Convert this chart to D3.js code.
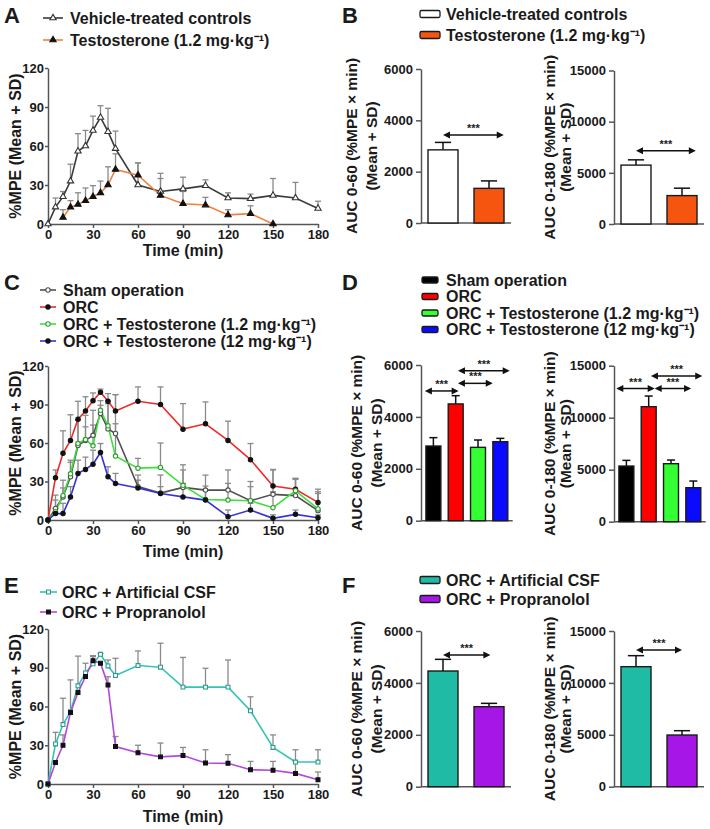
<!DOCTYPE html>
<html><head><meta charset="utf-8">
<script src="https://cdnjs.cloudflare.com/ajax/libs/d3/7.8.5/d3.min.js"></script>
<style>
body{margin:0;background:#fff}
svg{display:block}
text{font-family:'Liberation Sans',Arial,Helvetica,sans-serif;font-weight:bold;fill:#1a1a1a}
</style>
</head><body>
<svg id="chart" width="710" height="829"></svg>
<script>
// ---------- DATA ----------
const times = [0,5,10,15,20,25,30,35,40,45,60,75,90,105,120,135,150,165,180];
const timeTicks = [0,30,60,90,120,150,180];
const mpeTicks = [0,30,60,90,120];

// Panel A
const aVehicleMean = [0,13,21,33,56,60,72,82,71,58,30,25,27,29.5,20,19.5,22,20,12];
const aVehicleSD   = [0,7,4,13,13.5,12,11,9,18,13.5,17,14,9,4.5,4,3.5,13,12,5.5];
const aTestoTimes  = [10,15,20,25,30,35,40,45,60,75,90,105,120,135,150];
const aTestoMean   = [5,13,15,18,21,24,30,42,37.5,22,15.6,14.6,7,8,0];
const aTestoSD     = [6,5,9,9.7,8.5,9,14,12,9.5,13,9.4,5.9,4,6,0];

// Panel C
const cShamMean = [0,9,18,33.7,58,62,66,83,71,67.4,26,21,25.4,23.3,23.3,15,20,19,7.3];
const cShamSD   = [0,10.4,13,12.9,19.8,19.6,19.5,10,22,30.3,9,14,17.6,11.7,15.7,15,19,13.4,14.7];
const cOrcMean  = [0,33,52,62,78.5,85,93,99.5,92.5,85,92.5,90,70.8,75,62,47,26.5,24,13.7];
const cOrcSD    = [0,6,17.5,20,14,11,6,2.5,6,12.7,11.2,13.7,19.9,17,15,12.6,12.9,8.4,10.3];
const cT12Mean  = [0,6.5,19,36,59.6,62.7,57.8,85.5,73.4,49.8,40.4,41,27,16,15.5,15,9.6,22.8,8.6];
const cT12SD    = [0,9,6,9,18.2,9.9,16.2,3.9,17.3,25.2,7.6,19,12,10.4,13,11,12.4,8.8,12.1];
const cT120Mean = [0,5,5,18,36.3,39.4,43.5,52.6,33.7,28.5,25,20.7,18,15.5,2.6,7.8,1.3,4.4,1.8];
const cT120SD   = [0,4,8,8,10.3,9.6,10.9,7,7.8,7.8,6,5.3,10.5,7.5,5.2,5.2,2.7,3.4,2.2];

// Panel E
const eCsfMean  = [0,31,46,56,76,86,93,100.4,91.4,84,91.7,90.4,75,75,75,56.7,28.3,17,17];
const eCsfSD    = [0,9,20.4,24.6,23,7.5,5.6,0.6,4.6,13.3,11.3,18.6,23,14.6,21,10.8,9.7,9.5,9.5];
const ePropMean = [0,16.7,30,55.4,70.8,83.2,95.5,93.5,76.7,29,24.2,21,22,16.2,16,11,10.6,8.2,3.3];
const ePropSD   = [0,0,8,0,0,0,3.9,0,6.3,7.8,5.8,10.7,6.3,10.3,6.7,6.5,6.9,9.3,6];

// Bar panels (AUC)
const auc60Ticks  = [0,2000,4000,6000];
const auc180Ticks = [0,5000,10000,15000];
const bGroups = ["Vehicle-treated controls","Testosterone (1.2 mg\u00b7kg\u207b\u00b9)"];
const bAuc60Mean  = [2850,1350];   const bAuc60SD  = [290,290];
const bAuc180Mean = [5755,2775];   const bAuc180SD = [515,725];
const dGroups = ["Sham operation","ORC","ORC + Testosterone (1.2 mg\u00b7kg\u207b\u00b9)","ORC + Testosterone (12 mg\u00b7kg\u207b\u00b9)"];
const dAuc60Mean  = [2878,4500,2827,3045];  const dAuc60SD  = [322,318,283,128];
const dAuc180Mean = [5352,11058,5577,3269]; const dAuc180SD = [545,1025,353,641];
const fGroups = ["ORC + Artificial CSF","ORC + Propranolol"];
const fAuc60Mean  = [4458,3084];   const fAuc60SD  = [450,128];
const fAuc180Mean = [11563,4979];  const fAuc180SD = [1060,417];

// significance brackets: [from category, to category, value level]
const bSig60  = [[0,1.32,3430]];
const bSig180 = [[0,1.3,7157]];
const dSig60  = [[-0.38,1.13,5000],[1.1,2.66,5293],[1.1,3.42,5780]];
const dSig180 = [[-0.45,1.27,12800],[1.27,2.9,12800],[1.1,3.4,14006]];
const fSig60  = [[0,1.03,5075]];
const fSig180 = [[0,1,13169]];

// ---------- DRAWING ----------
const svg = d3.select("#chart");
const AXIS = "#555";
const FONT = "'Liberation Sans',Arial,Helvetica,sans-serif";

function letter(t, x, y){
  svg.append("text").attr("x",x).attr("y",y).attr("font-size",22).text(t);
}

function marker(g, type, x, y, fill, stroke){
  const sym = {tri:d3.symbolTriangle, circ:d3.symbolCircle, sq:d3.symbolSquare}[type];
  const size = type==="tri"?17:(type==="sq"?15:15);
  g.append("path").attr("d", d3.symbol().type(sym).size(size)())
    .attr("transform", `translate(${x},${y})`)
    .attr("fill", fill).attr("stroke", stroke).attr("stroke-width",1.1);
}

function styleAxis(a){
  a.selectAll("path,line").attr("stroke",AXIS).attr("stroke-width",1.5);
  a.selectAll("text").attr("font-size",13).attr("font-family",FONT).attr("font-weight","bold").attr("fill","#1a1a1a");
}

function lineChart(cfg){
  const g = svg.append("g");
  const x = d3.scaleLinear().domain([0,180]).range([48,318]);
  const y = d3.scaleLinear().domain([0,120]).range([cfg.yBot,cfg.yTop]);
  const ya = g.append("g").attr("transform","translate(48,0)")
    .call(d3.axisLeft(y).tickValues(mpeTicks).tickSize(3).tickPadding(1).tickSizeOuter(0));
  const xa = g.append("g").attr("transform",`translate(0,${cfg.yBot})`)
    .call(d3.axisBottom(x).tickValues(timeTicks).tickSize(4).tickPadding(2).tickSizeOuter(0));
  styleAxis(ya); styleAxis(xa);
  g.append("text").attr("transform",`translate(15,${(cfg.yTop+cfg.yBot)/2}) rotate(-90)`)
    .attr("text-anchor","middle").attr("dy","0.35em").attr("font-size",16).text("%MPE (Mean + SD)");
  g.append("text").attr("x",183).attr("y",cfg.titleY).attr("text-anchor","middle").attr("dy","0.35em")
    .attr("font-size",16).text("Time (min)");
  cfg.series.forEach(s=>{
    s.t.forEach((t,i)=>{
      if(!(s.sd[i]>0)) return;
      const xx=x(t), y0=y(s.m[i]), y1=y(s.m[i]+s.sd[i]);
      g.append("line").attr("x1",xx).attr("x2",xx).attr("y1",y0).attr("y2",y1).attr("stroke","#8a8a8a").attr("stroke-width",1.3);
      g.append("line").attr("x1",xx-3).attr("x2",xx+3).attr("y1",y1).attr("y2",y1).attr("stroke","#8a8a8a").attr("stroke-width",1.3);
    });
  });
  cfg.series.forEach(s=>{
    const pts = s.t.map((t,i)=>[x(t),y(s.m[i])]);
    g.append("path").attr("d",d3.line()(pts)).attr("fill","none").attr("stroke",s.color).attr("stroke-width",1.6);
  });
  cfg.series.forEach(s=>{
    s.t.forEach((t,i)=>marker(g,s.mk,x(t),y(s.m[i]),s.mFill,s.mStroke));
  });
  cfg.series.forEach((s,i)=>{
    const ly = cfg.legY[i];
    g.append("line").attr("x1",cfg.legX0).attr("x2",cfg.legX1).attr("y1",ly).attr("y2",ly).attr("stroke",s.color).attr("stroke-width",1.6);
    marker(g,s.mk,(cfg.legX0+cfg.legX1)/2,ly,s.mFill,s.mStroke);
    g.append("text").attr("x",cfg.legTX).attr("y",ly).attr("dy","0.36em").attr("font-size",16).text(s.name);
  });
}

function barChart(cfg){
  const g = svg.append("g");
  const n = cfg.means.length;
  const xb = d3.scaleBand().domain(d3.range(n)).range([cfg.axisX,cfg.endX])
    .paddingInner(cfg.pi).paddingOuter(cfg.po);
  const y = d3.scaleLinear().domain([0,cfg.max]).range([cfg.yBot,cfg.yTop]);
  const ya = g.append("g").attr("transform",`translate(${cfg.axisX},0)`)
    .call(d3.axisLeft(y).tickValues(cfg.ticks).tickFormat(d3.format("d")).tickSize(5).tickPadding(3).tickSizeOuter(0));
  styleAxis(ya);
  g.append("line").attr("x1",cfg.axisX).attr("x2",cfg.endX).attr("y1",cfg.yBot).attr("y2",cfg.yBot).attr("stroke",AXIS).attr("stroke-width",1.5);
  const bw = xb.bandwidth();
  cfg.means.forEach((m,i)=>{
    const x0 = xb(i);
    const top = y(m+cfg.sds[i]);
    g.append("line").attr("x1",x0+bw/2).attr("x2",x0+bw/2).attr("y1",y(m)).attr("y2",top).attr("stroke","#111").attr("stroke-width",1.5);
    g.append("line").attr("x1",x0+bw/2-bw*0.27).attr("x2",x0+bw/2+bw*0.27).attr("y1",top).attr("y2",top).attr("stroke","#111").attr("stroke-width",1.5);
    g.append("rect").attr("x",x0).attr("y",y(m)).attr("width",bw).attr("height",cfg.yBot-y(m))
      .attr("fill",cfg.colors[i]).attr("stroke","#1a1a1a").attr("stroke-width",1.4);
  });
  const step = xb.step();
  const cx = f => xb(0)+bw/2+f*step;
  cfg.sig.forEach(([a,b,v])=>{
    const x1=cx(a), x2=cx(b), yy=y(v), h=7, w=3.5;
    g.append("line").attr("x1",x1+2).attr("x2",x2-2).attr("y1",yy).attr("y2",yy).attr("stroke","#111").attr("stroke-width",1.5);
    g.append("path").attr("d",`M${x1},${yy}L${x1+h},${yy-w}L${x1+h},${yy+w}Z`).attr("fill","#111");
    g.append("path").attr("d",`M${x2},${yy}L${x2-h},${yy-w}L${x2-h},${yy+w}Z`).attr("fill","#111");
    g.append("text").attr("x",(x1+x2)/2).attr("y",yy-3).attr("text-anchor","middle").attr("font-size",11).text("***");
  });
  const cy = (cfg.yTop+cfg.yBot)/2;
  g.append("text").attr("transform",`translate(${cfg.t1x},${cy}) rotate(-90)`).attr("text-anchor","middle").attr("dy","0.35em")
    .attr("font-size",15.5).text(cfg.title);
  g.append("text").attr("transform",`translate(${cfg.t2x},${cy}) rotate(-90)`).attr("text-anchor","middle").attr("dy","0.35em")
    .attr("font-size",15.5).text("(Mean + SD)");
}

function barLegend(names, colors, x0, w, hgt, ys, tx){
  names.forEach((nm,i)=>{
    svg.append("rect").attr("x",x0).attr("y",ys[i]-hgt/2).attr("width",w).attr("height",hgt).attr("rx",1.5)
      .attr("fill",colors[i]).attr("stroke","#1a1a1a").attr("stroke-width",1.3);
    svg.append("text").attr("x",tx).attr("y",ys[i]).attr("dy","0.36em").attr("font-size",16).text(nm);
  });
}

// ---- Panel A ----
letter("A",4,23);
lineChart({yTop:68,yBot:224,titleY:250,legX0:43,legX1:63,legTX:70,legY:[18,40],
  series:[
    {name:"Vehicle-treated controls",t:times,m:aVehicleMean,sd:aVehicleSD,color:"#3a3a3a",mk:"tri",mFill:"#fff",mStroke:"#333"},
    {name:"Testosterone (1.2 mg\u00b7kg\u207b\u00b9)",t:aTestoTimes,m:aTestoMean,sd:aTestoSD,color:"#f08040",mk:"tri",mFill:"#111",mStroke:"#111"}
  ]});

// ---- Panel B ----
letter("B",342,23);
const bColors = ["#ffffff","#f5550f"];
barLegend(bGroups,bColors,420,20,7,[14,35],446);
barChart({axisX:421,endX:511,pi:0.348,po:0.152,yTop:69,yBot:223,max:6000,ticks:auc60Ticks,
  means:bAuc60Mean,sds:bAuc60SD,colors:bColors,sig:bSig60,title:"AUC 0-60 (%MPE \u00d7 min)",t1x:352,t2x:372});
barChart({axisX:614,endX:704,pi:0.348,po:0.152,yTop:70.5,yBot:224,max:15000,ticks:auc180Ticks,
  means:bAuc180Mean,sds:bAuc180SD,colors:bColors,sig:bSig180,title:"AUC 0-180 (%MPE \u00d7 min)",t1x:550,t2x:566});

// ---- Panel C ----
letter("C",4,290);
lineChart({yTop:366,yBot:520,titleY:551,legX0:40,legX1:56,legTX:63,legY:[290,307,324,341],
  series:[
    {name:"Sham operation",t:times,m:cShamMean,sd:cShamSD,color:"#505050",mk:"circ",mFill:"#fff",mStroke:"#505050"},
    {name:"ORC",t:times,m:cOrcMean,sd:cOrcSD,color:"#ee2b2b",mk:"circ",mFill:"#111",mStroke:"#111"},
    {name:"ORC + Testosterone (1.2 mg\u00b7kg\u207b\u00b9)",t:times,m:cT12Mean,sd:cT12SD,color:"#3ee03e",mk:"circ",mFill:"#fff",mStroke:"#2aa02a"},
    {name:"ORC + Testosterone (12 mg\u00b7kg\u207b\u00b9)",t:times,m:cT120Mean,sd:cT120SD,color:"#3434d6",mk:"circ",mFill:"#111",mStroke:"#111"}
  ]});

// ---- Panel D ----
letter("D",342,290);
const dColors = ["#000000","#ff0000","#33ff33","#0a0aff"];
barLegend(dGroups,dColors,422,16,6,[280,296.5,313,329.5],446);
barChart({axisX:421,endX:512.7,pi:0.33,po:0.22,yTop:365,yBot:520.7,max:6000,ticks:auc60Ticks,
  means:dAuc60Mean,sds:dAuc60SD,colors:dColors,sig:dSig60,title:"AUC 0-60 (%MPE \u00d7 min)",t1x:357,t2x:377});
barChart({axisX:614,endX:705.7,pi:0.33,po:0.22,yTop:365.7,yBot:521.7,max:15000,ticks:auc180Ticks,
  means:dAuc180Mean,sds:dAuc180SD,colors:dColors,sig:dSig180,title:"AUC 0-180 (%MPE \u00d7 min)",t1x:550,t2x:566});

// ---- Panel E ----
letter("E",4,593);
lineChart({yTop:629,yBot:784,titleY:816,legX0:40,legX1:57,legTX:62,legY:[592,612],
  series:[
    {name:"ORC + Artificial CSF",t:times,m:eCsfMean,sd:eCsfSD,color:"#33c4b4",mk:"sq",mFill:"#fff",mStroke:"#2a9a8e"},
    {name:"ORC + Propranolol",t:times,m:ePropMean,sd:ePropSD,color:"#b446e0",mk:"sq",mFill:"#111",mStroke:"#111"}
  ]});

// ---- Panel F ----
letter("F",342,593);
const fColors = ["#1fbba4","#a616e6"];
barLegend(fGroups,fColors,420,20,7,[580,599],446);
barChart({axisX:421,endX:511,pi:0.348,po:0.152,yTop:631,yBot:786.7,max:6000,ticks:auc60Ticks,
  means:fAuc60Mean,sds:fAuc60SD,colors:fColors,sig:fSig60,title:"AUC 0-60 (%MPE \u00d7 min)",t1x:357,t2x:377});
barChart({axisX:614,endX:704,pi:0.348,po:0.152,yTop:631,yBot:786.7,max:15000,ticks:auc180Ticks,
  means:fAuc180Mean,sds:fAuc180SD,colors:fColors,sig:fSig180,title:"AUC 0-180 (%MPE \u00d7 min)",t1x:550,t2x:566});
</script>
</body></html>
